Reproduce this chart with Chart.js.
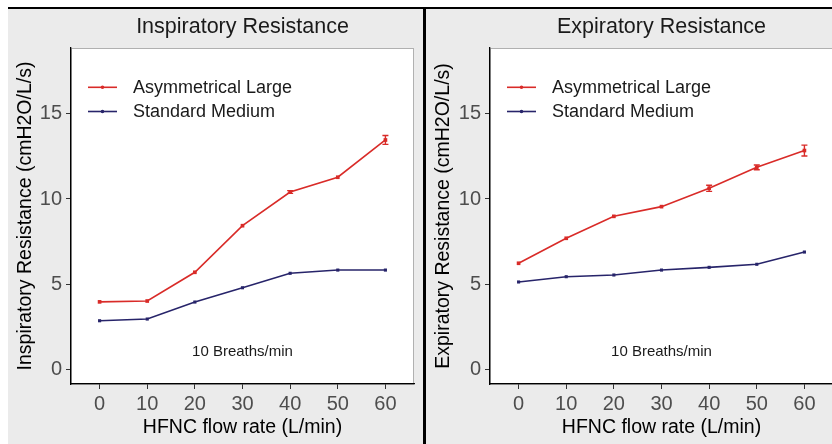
<!DOCTYPE html>
<html>
<head>
<meta charset="utf-8">
<script src="https://cdn.jsdelivr.net/npm/chart.js@4.4.1/dist/chart.umd.min.js"></script>
<style>
  html, body { margin: 0; padding: 0; background: #ffffff; }
  body { width: 832px; height: 444px; position: relative; overflow: hidden; }
  .topline { position: absolute; left: 8px; top: 7px; width: 824px; height: 2px; background: #000; }
  .divider { position: absolute; left: 423px; top: 7px; width: 3px; height: 437px; background: #000; }
  .panel { position: absolute; top: 9px; height: 435px; background: #EBEBEB; overflow: hidden; }
  #pL { left: 8px; width: 415px; }
  #pR { left: 426px; width: 406px; }
  canvas { display: block; }
</style>
</head>
<body>
<div class="topline"></div>
<div class="panel" id="pL"><canvas id="cL" width="415" height="435"></canvas></div>
<div class="divider"></div>
<div class="panel" id="pR"><canvas id="cR" width="415" height="435"></canvas></div>
<script>
// ---- data ----
const flowRates = [0, 10, 20, 30, 40, 50, 60];
const yTickValues = [0, 5, 10, 15];
const seriesNames = ['Asymmetrical Large', 'Standard Medium'];

const inspLarge  = [3.95, 4.00, 5.69, 8.43, 10.41, 11.28, 13.47];
const inspMedium = [2.84, 2.94, 3.94, 4.78, 5.63, 5.82, 5.82];
const inspLargeErr  = [0.04, 0.04, 0.05, 0.05, 0.08, 0.06, 0.26];
const inspMediumErr = [0.03, 0.04, 0.04, 0.04, 0.04, 0.04, 0.05];

const expLarge  = [6.22, 7.69, 8.98, 9.55, 10.63, 11.86, 12.85];
const expMedium = [5.12, 5.43, 5.53, 5.82, 5.98, 6.16, 6.88];
const expLargeErr  = [0.04, 0.05, 0.05, 0.05, 0.18, 0.14, 0.32];
const expMediumErr = [0.04, 0.04, 0.04, 0.04, 0.04, 0.04, 0.05];

const noteText = '10 Breaths/min';

// ---- styling ----
const FONT = '"Liberation Sans", Arial, Helvetica, sans-serif';
const RED = '#D92B28';
const NAVY = '#27246A';

const bgPlugin = {
  id: 'bg',
  beforeDraw(chart) {
    const a = chart.chartArea, ctx = chart.ctx;
    ctx.save();
    ctx.fillStyle = '#FFFFFF';
    ctx.fillRect(a.left, a.top, a.right - a.left, a.bottom - a.top);
    ctx.strokeStyle = '#B0B0B0';
    ctx.lineWidth = 1;
    ctx.strokeRect(a.left + 0.5, a.top + 0.5, a.right - a.left - 1, a.bottom - a.top);
    ctx.restore();
  }
};

const errPlugin = {
  id: 'err',
  afterDatasetsDraw(chart) {
    const ctx = chart.ctx, ys = chart.scales.y;
    chart.data.datasets.forEach((ds, i) => {
      const meta = chart.getDatasetMeta(i);
      ctx.save();
      ctx.strokeStyle = ds.borderColor;
      ctx.lineWidth = 1.4;
      meta.data.forEach((pt, j) => {
        const v = ds.data[j].y, e = ds.errors[j];
        const y1 = ys.getPixelForValue(v + e), y2 = ys.getPixelForValue(v - e);
        if (y2 - y1 < 2.5) return;
        ctx.beginPath();
        ctx.moveTo(pt.x, y1); ctx.lineTo(pt.x, y2);
        ctx.moveTo(pt.x - 3, y1); ctx.lineTo(pt.x + 3, y1);
        ctx.moveTo(pt.x - 3, y2); ctx.lineTo(pt.x + 3, y2);
        ctx.stroke();
      });
      ctx.restore();
    });
  }
};

const legendNotePlugin = {
  id: 'legnote',
  afterDatasetsDraw(chart) {
    const a = chart.chartArea, ctx = chart.ctx;
    ctx.save();
    chart.data.datasets.forEach((ds, i) => {
      const y = a.top + 39.3 + i * 24.2;
      ctx.strokeStyle = ds.borderColor;
      ctx.lineWidth = 1.6;
      ctx.beginPath();
      ctx.moveTo(a.left + 17, y); ctx.lineTo(a.left + 46, y);
      ctx.stroke();
      ctx.fillStyle = ds.borderColor;
      ctx.beginPath();
      ctx.arc(a.left + 31.5, y, 1.8, 0, Math.PI * 2);
      ctx.fill();
      ctx.fillStyle = '#1A1A1A';
      ctx.font = '18px ' + FONT;
      ctx.textAlign = 'left';
      ctx.textBaseline = 'middle';
      ctx.fillText(ds.label, a.left + 62, y + 1);
    });
    const xs = chart.scales.x, ys = chart.scales.y;
    ctx.fillStyle = '#1A1A1A';
    ctx.font = '15px ' + FONT;
    ctx.textAlign = 'center';
    ctx.textBaseline = 'middle';
    ctx.fillText(noteText, xs.getPixelForValue(30), ys.getPixelForValue(1.0));
    ctx.restore();
  }
};

function makePanel(id, title, yTitle, large, medium, largeErr, mediumErr, yAxisWidth, rightPad) {
  const mk = (vals) => flowRates.map((x, i) => ({ x: x, y: vals[i] }));
  return new Chart(document.getElementById(id), {
    type: 'line',
    data: {
      datasets: [
        { label: seriesNames[0], data: mk(large), errors: largeErr, borderColor: RED, backgroundColor: RED,
          borderWidth: 1.6, pointStyle: 'rect', pointRadius: 2.6, pointBorderWidth: 0, tension: 0 },
        { label: seriesNames[1], data: mk(medium), errors: mediumErr, borderColor: NAVY, backgroundColor: NAVY,
          borderWidth: 1.6, pointStyle: 'rect', pointRadius: 2.2, pointBorderWidth: 0, tension: 0 }
      ]
    },
    options: {
      responsive: false,
      animation: false,
      devicePixelRatio: 1,
      layout: { padding: { left: 0, right: rightPad, top: 0, bottom: 0 } },
      plugins: {
        legend: { display: false },
        tooltip: { enabled: false },
        title: {
          display: true, text: title, fullSize: false, color: '#1A1A1A',
          font: { size: 21.5, family: FONT, weight: 'normal' },
          padding: { top: 5, bottom: 8.2 }
        }
      },
      scales: {
        x: {
          type: 'linear', min: -6, max: 66,
          afterBuildTicks: (s) => { s.ticks = flowRates.map(v => ({ value: v })); },
          afterFit: (s) => { s.height = 60; },
          grid: { drawOnChartArea: false, drawTicks: true, tickLength: 5, tickColor: '#333333', tickWidth: 1 },
          border: { color: '#000000', width: 1.3 },
          ticks: { color: '#4D4D4D', font: { size: 20, family: FONT }, padding: 3, maxRotation: 0, autoSkip: false },
          title: { display: true, text: 'HFNC flow rate (L/min)', color: '#000000',
                   font: { size: 19.5, family: FONT }, padding: { top: 0, bottom: 5 } }
        },
        y: {
          type: 'linear', min: -0.88, max: 18.88,
          afterBuildTicks: (s) => { s.ticks = yTickValues.map(v => ({ value: v })); },
          afterFit: (s) => { s.width = yAxisWidth; },
          grid: { drawOnChartArea: false, drawTicks: true, tickLength: 5, tickColor: '#333333', tickWidth: 1 },
          border: { color: '#000000', width: 1.3 },
          ticks: { color: '#4D4D4D', font: { size: 20, family: FONT }, padding: 4 },
          title: { display: true, text: yTitle, color: '#000000',
                   font: { size: 19.5, family: FONT }, padding: { top: 6, bottom: 0 } }
        }
      }
    },
    plugins: [bgPlugin, errPlugin, legendNotePlugin]
  });
}

makePanel('cL', 'Inspiratory Resistance', 'Inspiratory Resistance (cmH2O/L/s)',
          inspLarge, inspMedium, inspLargeErr, inspMediumErr, 63, 9);
makePanel('cR', 'Expiratory Resistance', 'Expiratory Resistance (cmH2O/L/s)',
          expLarge, expMedium, expLargeErr, expMediumErr, 64, 8);
</script>
</body>
</html>
